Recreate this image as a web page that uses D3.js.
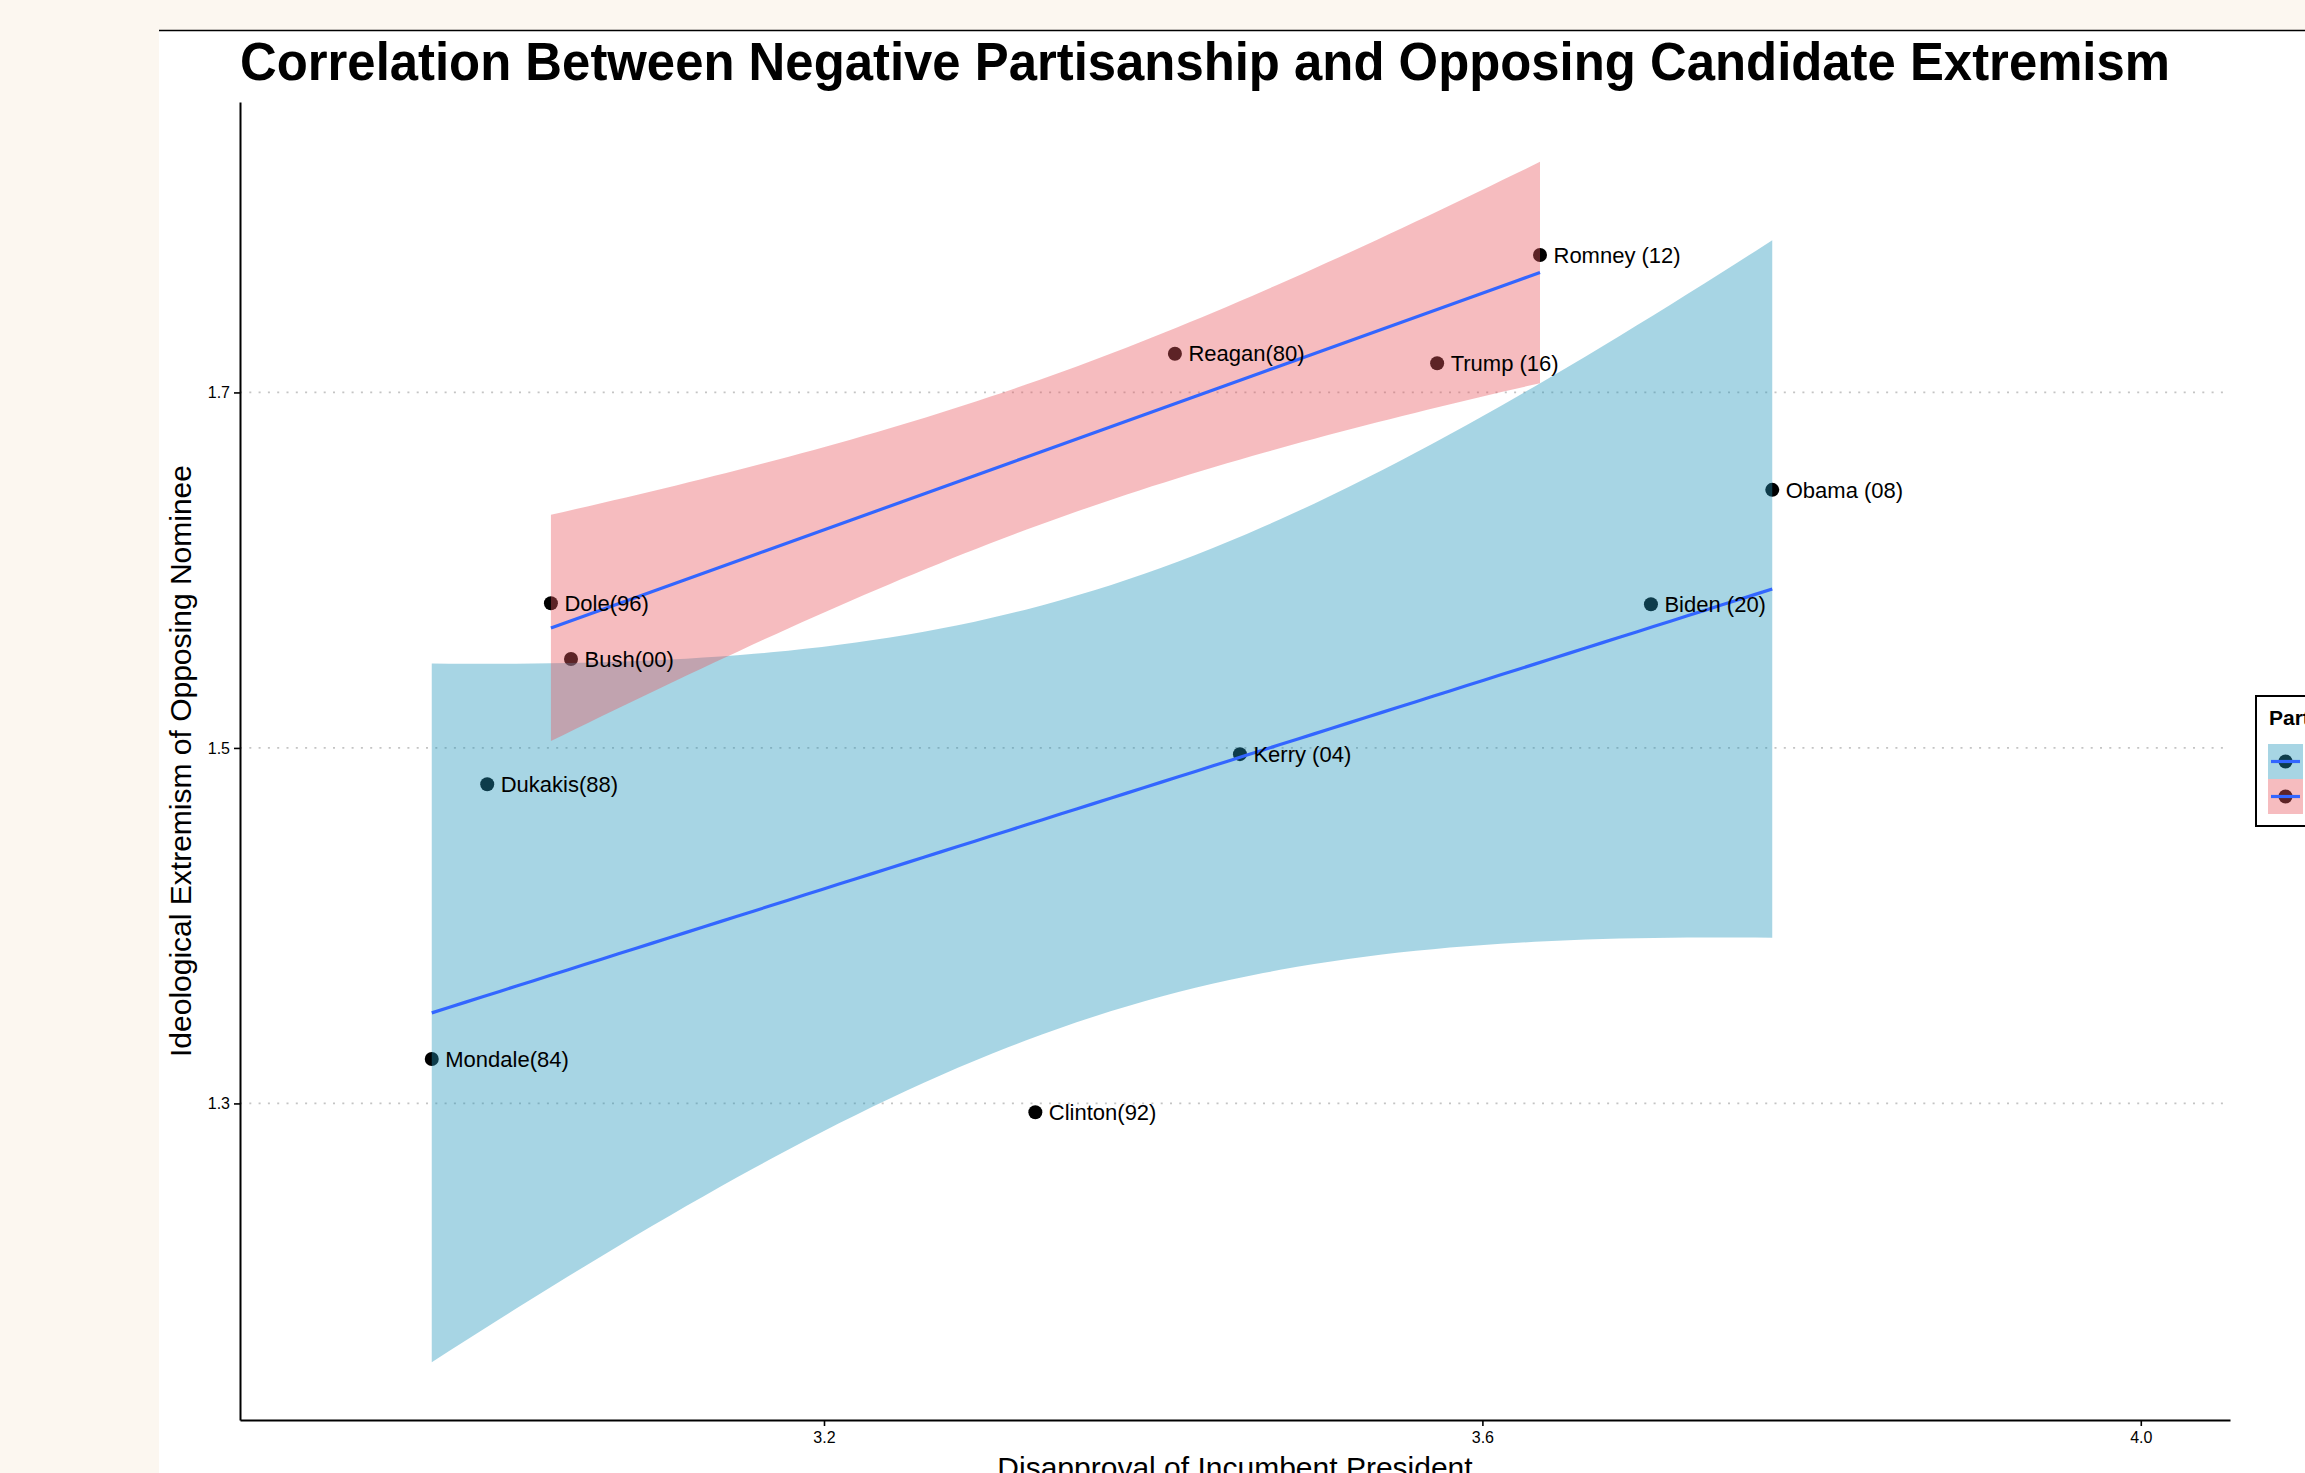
<!DOCTYPE html>
<html>
<head>
<meta charset="utf-8">
<script src="https://cdn.jsdelivr.net/npm/d3@7"></script>
<style>
  html, body { margin: 0; padding: 0; background: #fcf7f0; }
  svg { display: block; }
  text { font-family: "Liberation Sans", Arial, Helvetica, sans-serif; fill: #000; }
</style>
</head>
<body>
<svg id="chart" width="2305" height="1473"></svg>
<script>
// Opposing nominee (election year), party, and the two measures
const candidates = ["Mondale(84)", "Dukakis(88)", "Clinton(92)", "Kerry (04)", "Obama (08)", "Biden (20)",
                    "Reagan(80)", "Dole(96)", "Bush(00)", "Romney (12)", "Trump (16)"];
const party = ["Democrat", "Democrat", "Democrat", "Democrat", "Democrat", "Democrat",
               "Republican", "Republican", "Republican", "Republican", "Republican"];
const disapproval = [2.9617, 2.9954, 3.3284, 3.4527, 3.7761, 3.7024,
                     3.4132, 3.0341, 3.0463, 3.6350, 3.5725];
const extremism = [1.3250, 1.4796, 1.2950, 1.4965, 1.6452, 1.5808,
                   1.7218, 1.5814, 1.5500, 1.7773, 1.7164];

const partyLevels = ["Democrat", "Republican"];
const xTicks = [3.2, 3.6, 4.0];
const yTicks = [1.3, 1.5, 1.7];
const xDomain = [2.8452, 4.0542];
const yDomain = [1.1219, 1.8634];

// two-sided 95% t critical values by residual degrees of freedom
const tCrit95 = { 1: 12.7062, 2: 4.3027, 3: 3.1824, 4: 2.7764, 5: 2.5706, 6: 2.4469, 7: 2.3646, 8: 2.3060 };

const ribbonFill = { Democrat: "rgb(35,150,187)", Republican: "rgb(232,88,95)" };
const ribbonAlpha = 0.4;
const smoothColor = "#3366FF";

const svg = d3.select("#chart");
const W = 2305, H = 1473;
const panel = { left: 240, right: 2230, top: 102, bottom: 1420 };

// page: cream margin, white sheet with a rule along its top
svg.append("rect").attr("width", W).attr("height", H).attr("fill", "#fcf7f0");
svg.append("rect").attr("x", 159).attr("y", 30).attr("width", W - 159).attr("height", H - 30).attr("fill", "#ffffff");
svg.append("line").attr("x1", 159).attr("x2", W).attr("y1", 30.5).attr("y2", 30.5)
  .attr("stroke", "#000").attr("stroke-width", 1.5);

const x = d3.scaleLinear().domain(xDomain).range([panel.left, panel.right]);
const y = d3.scaleLinear().domain(yDomain).range([panel.bottom, panel.top]);

const points = candidates.map((name, i) => ({
  name, party: party[i], x: disapproval[i], y: extremism[i]
}));

// linear fit with a 95% confidence band, evaluated along the group's x range
function lmBand(xs, ys, n = 80) {
  const m = xs.length;
  const mx = d3.mean(xs), my = d3.mean(ys);
  const sxx = d3.sum(xs, v => (v - mx) ** 2);
  const sxy = d3.sum(xs.map((v, i) => (v - mx) * (ys[i] - my)));
  const b = sxy / sxx, a = my - b * mx;
  const s = Math.sqrt(d3.sum(xs.map((v, i) => (ys[i] - a - b * v) ** 2)) / (m - 2));
  const t = tCrit95[m - 2];
  const [x0, x1] = d3.extent(xs);
  return d3.range(n).map(k => {
    const xv = x0 + (x1 - x0) * k / (n - 1);
    const fit = a + b * xv;
    const se = s * Math.sqrt(1 / m + (xv - mx) ** 2 / sxx);
    return { x: xv, fit, lo: fit - t * se, hi: fit + t * se };
  });
}

// horizontal dotted grid
svg.append("g").selectAll("line").data(yTicks).join("line")
  .attr("x1", panel.left).attr("x2", panel.right)
  .attr("y1", d => y(d)).attr("y2", d => y(d))
  .attr("stroke", "#c4c4c4").attr("stroke-width", 1.8)
  .attr("stroke-dasharray", "2,7.3");

// points
svg.append("g").selectAll("circle").data(points).join("circle")
  .attr("cx", d => x(d.x)).attr("cy", d => y(d.y)).attr("r", 7)
  .attr("fill", "#000");

// smoothers: ribbon then line, one group after the other
const area = d3.area().x(d => x(d.x)).y0(d => y(d.lo)).y1(d => y(d.hi));
const line = d3.line().x(d => x(d.x)).y(d => y(d.fit));
const smoothG = svg.append("g");
partyLevels.forEach(p => {
  const grp = points.filter(d => d.party === p);
  const band = lmBand(grp.map(d => d.x), grp.map(d => d.y));
  smoothG.append("path").datum(band).attr("d", area)
    .attr("fill", ribbonFill[p]).attr("fill-opacity", ribbonAlpha);
  smoothG.append("path").datum(band).attr("d", line)
    .attr("fill", "none").attr("stroke", smoothColor).attr("stroke-width", 3.2);
});

// candidate labels
svg.append("g").selectAll("text").data(points).join("text")
  .attr("x", d => x(d.x) + 13.5).attr("y", d => y(d.y)).attr("dy", "0.35em")
  .attr("font-size", 22)
  .text(d => d.name);

// axes
const yAxis = svg.append("g").attr("transform", `translate(${panel.left},0)`)
  .call(d3.axisLeft(y).tickValues(yTicks).tickFormat(d3.format(".1f")).tickSize(6).tickSizeOuter(0).tickPadding(4));
const xAxis = svg.append("g").attr("transform", `translate(0,${panel.bottom})`)
  .call(d3.axisBottom(x).tickValues(xTicks).tickFormat(d3.format(".1f")).tickSize(6).tickSizeOuter(0).tickPadding(6));
[yAxis, xAxis].forEach(g => {
  g.select(".domain").attr("stroke", "#000").attr("stroke-width", 2);
  g.selectAll(".tick line").attr("stroke", "#000").attr("stroke-width", 1.6);
  g.selectAll(".tick text").attr("font-size", 16).attr("fill", "#000")
    .attr("font-family", "\"Liberation Sans\", Arial, sans-serif");
});

// titles
svg.append("text").attr("x", panel.left).attr("y", 80)
  .attr("font-size", 54).attr("font-weight", "bold")
  .attr("textLength", 1930).attr("lengthAdjust", "spacingAndGlyphs")
  .text("Correlation Between Negative Partisanship and Opposing Candidate Extremism");

svg.append("text")
  .attr("transform", `translate(191,${(panel.top + panel.bottom) / 2}) rotate(-90)`)
  .attr("text-anchor", "middle").attr("font-size", 30)
  .text("Ideological Extremism of Opposing Nominee");

svg.append("text").attr("x", (panel.left + panel.right) / 2).attr("y", 1478)
  .attr("text-anchor", "middle").attr("font-size", 30)
  .text("Disapproval of Incumbent President");

// legend
const lg = svg.append("g").attr("transform", "translate(2256,696)");
lg.append("rect").attr("x", 0).attr("y", 0).attr("width", 220).attr("height", 130)
  .attr("fill", "#fff").attr("stroke", "#000").attr("stroke-width", 2);
lg.append("text").attr("x", 13).attr("y", 29).attr("font-size", 21).attr("font-weight", "bold")
  .text("Party");
const keys = lg.selectAll("g.key").data(partyLevels).join("g")
  .attr("class", "key").attr("transform", (d, i) => `translate(12,${48 + i * 35})`);
keys.append("circle").attr("cx", 17.5).attr("cy", 17.5).attr("r", 7).attr("fill", "#000");
keys.append("rect").attr("width", 35).attr("height", 35)
  .attr("fill", d => ribbonFill[d]).attr("fill-opacity", ribbonAlpha);
keys.append("line").attr("x1", 3).attr("x2", 32).attr("y1", 17.5).attr("y2", 17.5)
  .attr("stroke", smoothColor).attr("stroke-width", 3.2);
keys.append("text").attr("x", 45).attr("y", 17.5).attr("dy", "0.35em").attr("font-size", 19)
  .text(d => d);
</script>
</body>
</html>
